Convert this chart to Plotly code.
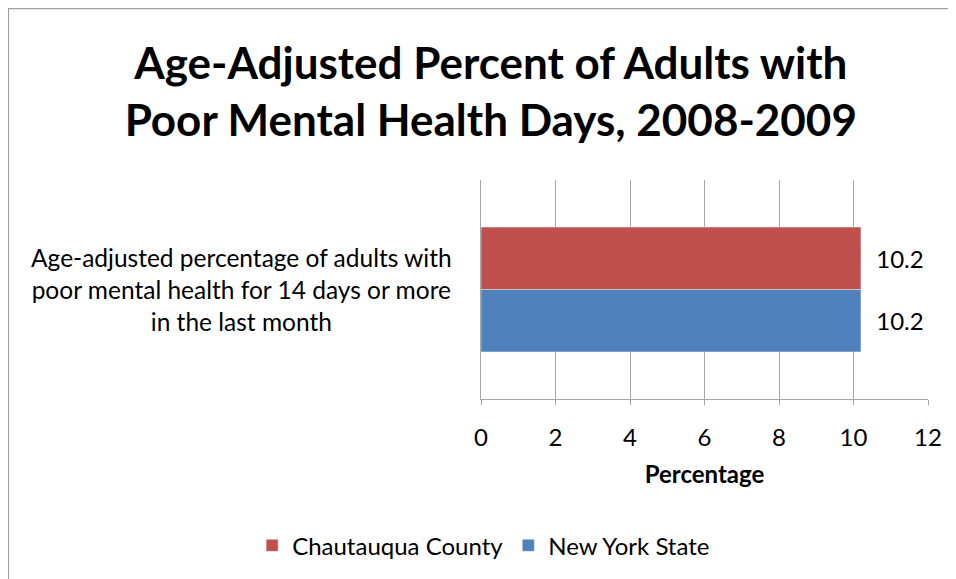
import plotly.graph_objects as go

# 데이터
category = ["Age-adjusted percentage of adults with<br>poor mental health for 14 days or more<br>in the last month"]
county_vals = [10.2]
state_vals = [10.2]
x_ticks = [0, 2, 4, 6, 8, 10, 12]

FONT = "Lato, Carlito, Calibri, sans-serif"

fig = go.Figure()
# 가로 막대: 먼저 넣은 trace가 아래쪽에 그려짐
fig.add_trace(go.Bar(
    y=category, x=state_vals, orientation="h", name="New York State",
    marker={"color": "#4f81bd"}, legendrank=2,
    text=state_vals, texttemplate="\u00a0\u00a0%{x}", textposition="outside",
    textfont={"size": 24, "color": "black"}, cliponaxis=False,
))
fig.add_trace(go.Bar(
    y=category, x=county_vals, orientation="h", name="Chautauqua County",
    marker={"color": "#c0504d"}, legendrank=1,
    text=county_vals, texttemplate="\u00a0\u00a0%{x}", textposition="outside",
    textfont={"size": 24, "color": "black"}, cliponaxis=False,
))

# 카테고리 라벨 (가운데 정렬)
fig.add_annotation(
    x=-0.06, xref="paper", y=category[0], yref="y",
    text=category[0], showarrow=False, xanchor="right", align="center",
    font={"size": 24.5, "color": "black", "family": FONT},
)

fig.update_layout(
    {
        "title": {
            "text": "<b>Age-Adjusted Percent of Adults with<br>Poor Mental Health Days, 2008-2009</b>",
            "x": 0.505, "xanchor": "center",
            "y": 0.877, "yanchor": "middle",
            "font": {"size": 44, "color": "black", "family": FONT},
        },
        "font": {"family": FONT, "size": 24, "color": "black"},
        "barmode": "group",
        "bargap": 0.43,
        "showlegend": True,
        "legend": {
            "orientation": "h", "x": -0.512, "xanchor": "left",
            "y": -0.67, "yanchor": "middle",
            "font": {"size": 24}, "traceorder": "normal",
            "itemwidth": 30,
        },
        "xaxis": {
            "range": [0, 12], "tickvals": x_ticks,
            "showgrid": True, "gridcolor": "#a6a6a6", "gridwidth": 1.3,
            "showline": True, "linecolor": "#a6a6a6", "linewidth": 1.3,
            "ticks": "outside", "ticklen": 5, "tickcolor": "#a6a6a6",
            "ticklabelstandoff": 12, "zeroline": False,
            "title": {"text": "<b>Percentage</b>", "standoff": 16, "font": {"size": 24}},
        },
        "yaxis": {
            "showticklabels": False, "showgrid": False, "zeroline": False,
            "showline": True, "linecolor": "#a6a6a6", "linewidth": 1.3,
        },
        "shapes": [{
            "type": "rect", "xref": "paper", "yref": "paper",
            "x0": -1.058, "x1": 1.4, "y0": -1.0, "y1": 1.784,
            "line": {"color": "#a0a0a0", "width": 2}, "layer": "below",
        }],
        "plot_bgcolor": "white",
        "paper_bgcolor": "white",
        "margin": {"l": 473, "r": 36, "t": 172, "b": 188},
        "autosize": False,
        "width": 956,
        "height": 579,
    }
)

fig.write_html("out.html")
